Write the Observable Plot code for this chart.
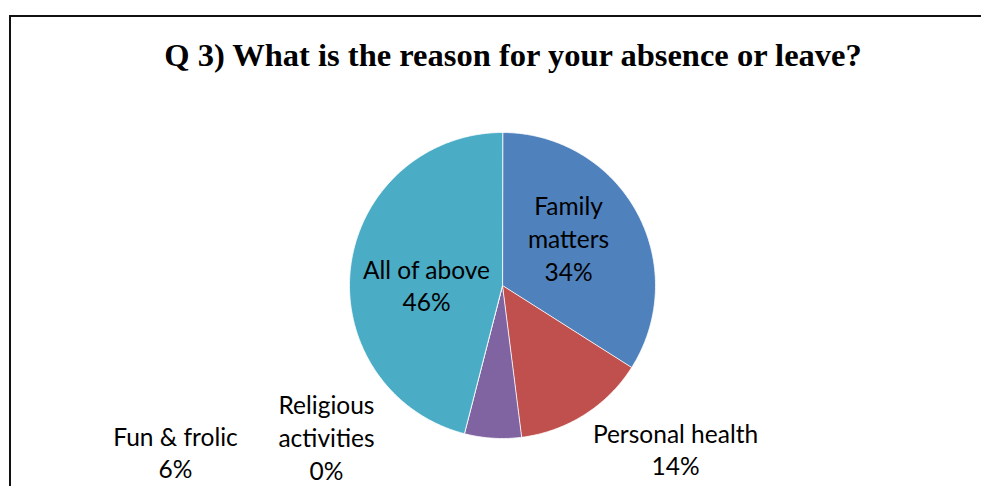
<!DOCTYPE html>
<html>
<head>
<meta charset="utf-8">
<script src="https://cdn.jsdelivr.net/npm/d3@7"></script>
<script src="https://cdn.jsdelivr.net/npm/@observablehq/plot@0.6"></script>
<style>
  html, body { margin: 0; padding: 0; background: #fff; }
  #wrap { position: relative; width: 981px; height: 486px; overflow: hidden; }
  #frame { position: absolute; left: 9px; top: 15px; right: -10px; bottom: -10px;
           border-left: 2px solid #111; border-top: 2px solid #111; }
  #title { position: absolute; left: 0; width: 1026px; top: 37px; text-align: center;
           font-family: "Liberation Serif", "Times New Roman", serif; font-weight: bold;
           font-size: 32.5px; color: #000; line-height: 1.15; }
  #chart { position: absolute; left: 0; top: 0; }
</style>
</head>
<body>
<div id="wrap">
  <div id="frame"></div>
  <div id="title">Q 3) What is the reason for your absence or leave?</div>
  <div id="chart"></div>
</div>
<script>
// ---- data ----
const categories = ["Family matters", "Personal health", "Fun & frolic", "Religious activities", "All of above"];
const values = [34, 14, 6, 0, 46];
const labelTexts = ["Family\nmatters\n34%", "Personal health\n14%", "Fun & frolic\n6%", "Religious\nactivities\n0%", "All of above\n46%"];
const colors = ["#4F81BD", "#C0504D", "#8064A2", "#9BBB59", "#4BACC6"];

// ---- layout (label block centres, pixels relative to pie centre) ----
const labelOffsets = [[66, -48], [173, 163], [-327, 166], [-176, 151], [-76, -1]];
const R = 153; // pie radius in pixels

const pie = d3.pie().sort(null).value(d => d.value).startAngle(0).endAngle(2 * Math.PI);
const rows = categories.map((c, i) => ({category: c, value: values[i], label: labelTexts[i], off: labelOffsets[i]}));
const arcs = pie(rows);

const features = arcs.map(a => {
  const n = Math.max(2, Math.ceil((a.endAngle - a.startAngle) / (Math.PI / 180)) * 2);
  const ring = [[0, 0]];
  for (let k = 0; k <= n; k++) {
    const t = a.startAngle + (a.endAngle - a.startAngle) * k / n;
    ring.push([Math.sin(t), Math.cos(t)]);
  }
  ring.push([0, 0]);
  return {type: "Feature", properties: {category: a.data.category}, geometry: {type: "Polygon", coordinates: [ring]}};
});

const labels = rows.map(d => ({text: d.label, x: d.off[0] / R, y: -d.off[1] / R}));

const chart = Plot.plot({
  width: 981,
  height: 486,
  marginLeft: 349,
  marginRight: 326,
  marginTop: 132,
  marginBottom: 48,
  projection: {type: "reflect-y", clip: false, domain: {type: "MultiPoint", coordinates: [[-1, -1], [1, 1]]}},
  color: {domain: categories, range: colors},
  style: {background: "transparent", overflow: "visible"},
  marks: [
    Plot.geo(features, {fill: d => d.properties.category, stroke: "#fff", strokeWidth: 0.8}),
    Plot.text(labels, {x: "x", y: "y", text: "text", fontSize: 24.5, lineHeight: 1.34,
      fill: "#000", fontFamily: "Lato, 'Liberation Sans', sans-serif"})
  ]
});
document.getElementById("chart").appendChild(chart);
</script>
</body>
</html>
